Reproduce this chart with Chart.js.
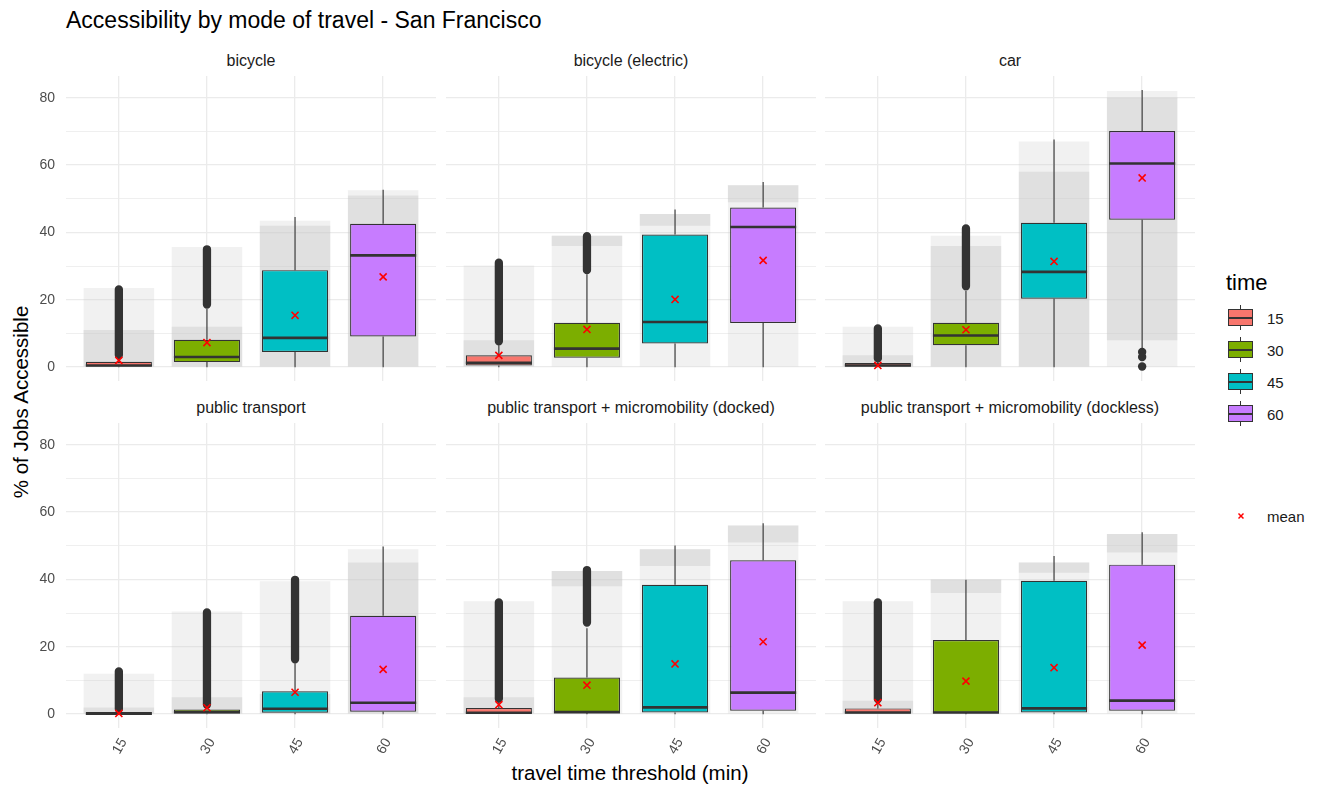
<!DOCTYPE html>
<html>
<head>
<meta charset="utf-8">
<title>Accessibility by mode of travel - San Francisco</title>
<script src="https://cdn.jsdelivr.net/npm/chart.js@4.4.1/dist/chart.umd.min.js"></script>
<style>
  html, body { margin: 0; padding: 0; background: #ffffff; }
  body { width: 1322px; height: 785px; position: relative; overflow: hidden;
         font-family: "Liberation Sans", Arial, Helvetica, sans-serif; }
  canvas { position: absolute; }
  .txt { position: absolute; white-space: nowrap; line-height: 1; }
  .center { transform: translate(-50%, -50%); }
  .vmid { transform: translateY(-50%); }
</style>
</head>
<body>
<div class="txt" style="left:66px; top:9px; font-size:23px; color:#000;">Accessibility by mode of travel - San Francisco</div>
<div class="txt center" style="left:630px; top:773px; font-size:20.5px; color:#000;">travel time threshold (min)</div>
<div class="txt" style="left:21px; top:402px; font-size:20.5px; color:#000; transform: translate(-50%, -50%) rotate(-90deg);">% of Jobs Accessible</div>

<script>
const FONT = '"Liberation Sans", Arial, Helvetica, sans-serif';

// travel time thresholds (minutes) on the x axis
const timeLabels = ['15', '30', '45', '60'];
const timeColors = ['#F8766D', '#7CAE00', '#00BFC4', '#C77CFF'];
const facetNames = ['bicycle', 'bicycle (electric)', 'car', 'public transport',
  'public transport + micromobility (docked)', 'public transport + micromobility (dockless)'];
const yTickValues = [0, 10, 20, 30, 40, 50, 60, 70, 80];

// box statistics per travel time: [lower whisker, Q1, median, Q3, upper whisker]
const bicycleStats = [[0, 0.2, 0.5, 1.6, 3.4], [0, 1.5, 3.0, 8.1, 17.3], [0, 4.5, 8.7, 28.8, 44.6], [0, 9.1, 33.2, 42.6, 52.7]];
const eBikeStats = [[0, 0.5, 1.3, 3.5, 7.0], [0, 2.8, 5.5, 13.2, 27.6], [0, 7.0, 13.4, 39.4, 46.8], [0, 13.1, 41.6, 47.4, 55.0]];
const carStats = [[0, 0.2, 0.5, 1.2, 2.4], [0, 6.5, 9.4, 13.2, 22.6], [0, 20.3, 28.3, 42.9, 67.6], [5.0, 43.8, 60.5, 70.1, 82.3]];
const transitStats = [[0, 0, 0.1, 0.6, 1.2], [0, 0.2, 0.6, 1.4, 2.5], [0, 0.4, 1.6, 6.8, 15.1], [0, 0.7, 3.4, 29.2, 49.8]];
const dockedStats = [[0, 0, 0.4, 1.8, 4.0], [0, 0.4, 0.6, 10.9, 25.5], [0, 0.5, 2.0, 38.4, 50.1], [0, 1.0, 6.4, 45.7, 56.7]];
const docklessStats = [[0, 0, 0.5, 1.7, 3.9], [0, 0.4, 0.5, 22.0, 39.9], [0, 0.5, 1.7, 39.6, 47.0], [0, 1.0, 4.0, 44.4, 54.0]];

// mean share of jobs reachable
const bicycleMeans = [2.0, 7.3, 15.4, 26.8];
const eBikeMeans = [3.5, 11.2, 20.1, 31.7];
const carMeans = [0.5, 11.1, 31.4, 56.2];
const transitMeans = [0.2, 1.9, 6.5, 13.3];
const dockedMeans = [2.8, 8.6, 14.9, 21.5];
const docklessMeans = [3.4, 9.8, 13.8, 20.5];

// continuous runs of outliers: [lowest, highest] (null when there are none)
const bicycleOutlierRuns = [[3.6, 23.1], [18.6, 35.0], null, null];
const eBikeOutlierRuns = [[7.7, 31.0], [28.8, 38.9], null, null];
const carOutlierRuns = [[2.6, 11.5], [24.0, 41.2], null, null];
const transitOutlierRuns = [[1.5, 12.7], [2.8, 30.2], [16.3, 39.9], null];
const dockedOutlierRuns = [[4.6, 33.2], [27.2, 42.8], null, null];
const docklessOutlierRuns = [[4.5, 33.2], null, null, null];

// isolated outliers
const carOutlierPoints = [[], [], [], [4.5, 3.0, 0.2]];
const noOutlierPoints = [[], [], [], []];

// spread of the jittered observations: [lowest, highest, dense band from, dense band to]
const bicycleCloud = [[0, 23.5, 0, 11], [0, 35.7, 0, 12], [0, 43.5, 0, 42], [0, 52.5, 0, 51]];
const eBikeCloud = [[0, 30.2, 0, 8], [0, 39.0, 36, 39], [0, 45.5, 42, 45.5], [0, 54.0, 49, 54]];
const carCloud = [[0, 12.0, 0, 3.5], [0, 39.0, 0, 36], [0, 67.0, 0, 58], [0, 82.0, 8, 80]];
const transitCloud = [[0, 12.0, 0, 2], [0, 30.5, 0, 5], [0, 39.5, 0, 6], [0, 49.0, 0, 45]];
const dockedCloud = [[0, 33.5, 0, 5], [0, 42.5, 38, 42.5], [0, 49.0, 44, 49], [0, 56.0, 51, 56]];
const docklessCloud = [[0, 33.5, 0, 4], [0, 40.0, 36, 40], [0, 45.0, 42, 45], [0, 53.5, 48, 53.5]];

const panels = [
  { name: facetNames[0], stats: bicycleStats, means: bicycleMeans, runs: bicycleOutlierRuns, points: noOutlierPoints, cloud: bicycleCloud },
  { name: facetNames[1], stats: eBikeStats, means: eBikeMeans, runs: eBikeOutlierRuns, points: noOutlierPoints, cloud: eBikeCloud },
  { name: facetNames[2], stats: carStats, means: carMeans, runs: carOutlierRuns, points: carOutlierPoints, cloud: carCloud },
  { name: facetNames[3], stats: transitStats, means: transitMeans, runs: transitOutlierRuns, points: noOutlierPoints, cloud: transitCloud },
  { name: facetNames[4], stats: dockedStats, means: dockedMeans, runs: dockedOutlierRuns, points: noOutlierPoints, cloud: dockedCloud },
  { name: facetNames[5], stats: docklessStats, means: docklessMeans, runs: docklessOutlierRuns, points: noOutlierPoints, cloud: docklessCloud }
];

// facet grid geometry (plot-area rectangles)
const colLeft = [66, 446, 825];
const rowTop = [76, 423];
const AREA_W = 370, AREA_H = 305;
const Y_AXIS_W = 40, X_AXIS_H = 55;
const BOX_W = 0.75, CLOUD_W = 0.8;
const Y_MIN = -4.12, Y_MAX = 86.47;

function addText(text, x, y, size, color, cls) {
  const d = document.createElement('div');
  d.className = 'txt ' + cls;
  d.textContent = text;
  d.style.left = x + 'px';
  d.style.top = y + 'px';
  d.style.fontSize = size + 'px';
  d.style.color = color;
  document.body.appendChild(d);
  return d;
}

function buildPanel(p, idx) {
  const col = idx % 3, row = Math.floor(idx / 3);
  const hasY = col === 0, hasX = row === 1;
  const yW = hasY ? Y_AXIS_W : 0;
  const xH = hasX ? X_AXIS_H : 0;

  const canvas = document.createElement('canvas');
  canvas.width = yW + AREA_W;
  canvas.height = AREA_H + xH;
  canvas.style.width = canvas.width + 'px';
  canvas.style.height = canvas.height + 'px';
  canvas.style.left = (colLeft[col] - yW) + 'px';
  canvas.style.top = rowTop[row] + 'px';
  document.body.appendChild(canvas);

  addText(p.name, colLeft[col] + AREA_W / 2, rowTop[row] - 15, 16, '#1A1A1A', 'center');

  const xs = timeLabels.map((_, i) => i + 1);

  const datasets = [
    // jittered observations: faint haze over their full spread, heavier where they pile up
    { type: 'bar', order: 10, grouped: false, barPercentage: CLOUD_W, categoryPercentage: 1,
      backgroundColor: 'rgba(200,200,200,0.25)', borderWidth: 0,
      data: xs.map((x, i) => ({ x, y: [p.cloud[i][0], p.cloud[i][1]] })) },
    { type: 'bar', order: 9, grouped: false, barPercentage: CLOUD_W, categoryPercentage: 1,
      backgroundColor: 'rgba(200,200,200,0.42)', borderWidth: 0,
      data: xs.map((x, i) => ({ x, y: [p.cloud[i][2], p.cloud[i][3]] })) },
    // whiskers
    { type: 'line', order: 8, borderColor: '#333333', borderWidth: 1.1, pointRadius: 0, spanGaps: false,
      data: xs.flatMap((x, i) => [
        { x, y: p.stats[i][0] }, { x, y: p.stats[i][1] }, { x, y: null },
        { x, y: p.stats[i][3] }, { x, y: p.stats[i][4] }, { x, y: null }]) },
    // interquartile boxes
    { type: 'bar', order: 7, grouped: false, barPercentage: BOX_W, categoryPercentage: 1,
      backgroundColor: timeColors, borderColor: '#333333', borderWidth: 1.2, borderSkipped: false,
      data: xs.map((x, i) => ({ x, y: [p.stats[i][1], p.stats[i][3]] })) },
    // medians
    { type: 'line', order: 6, borderColor: '#333333', borderWidth: 2.6, pointRadius: 0, spanGaps: false,
      data: xs.flatMap((x, i) => [
        { x: x - BOX_W / 2, y: p.stats[i][2] }, { x: x + BOX_W / 2, y: p.stats[i][2] }, { x: x + BOX_W / 2, y: null }]) },
    // packed outliers
    { type: 'line', order: 5, borderColor: '#333333', borderWidth: 8.3, borderCapStyle: 'round',
      pointRadius: 0, spanGaps: false,
      data: xs.flatMap((x, i) => p.runs[i] ? [{ x, y: p.runs[i][0] }, { x, y: p.runs[i][1] }, { x, y: null }] : []) },
    // single outliers
    { type: 'line', order: 4, showLine: false, pointRadius: 4.2, pointBackgroundColor: '#333333',
      pointBorderWidth: 0, data: xs.flatMap((x, i) => p.points[i].map(v => ({ x, y: v }))) },
    // means
    { type: 'line', order: 1, showLine: false, pointStyle: 'crossRot', pointRadius: 5,
      pointBorderColor: '#FF0000', pointBorderWidth: 1.6,
      data: xs.map((x, i) => ({ x, y: p.means[i] })) }
  ];

  new Chart(canvas, {
    type: 'bar',
    data: { datasets },
    options: {
      responsive: false,
      animation: false,
      events: [],
      layout: { padding: 0, autoPadding: false },
      plugins: { legend: { display: false }, tooltip: { enabled: false } },
      scales: {
        x: {
          type: 'linear', min: 0.4, max: 4.6, offset: false,
          afterBuildTicks: s => { s.ticks = xs.map(v => ({ value: v })); },
          afterFit: s => { s.height = xH; s.paddingLeft = 0; s.paddingRight = 0; s.paddingTop = 0; s.paddingBottom = 0; },
          grid: { color: '#EBEBEB', lineWidth: 1.3, drawTicks: false, offset: false },
          border: { display: false },
          ticks: {
            display: hasX, autoSkip: false, minRotation: 60, maxRotation: 60,
            padding: 7.5, labelOffset: 5, color: '#4D4D4D',
            font: { family: FONT, size: 14 },
            callback: v => timeLabels[Math.round(v) - 1]
          }
        },
        y: {
          type: 'linear', min: Y_MIN, max: Y_MAX,
          afterBuildTicks: s => { s.ticks = yTickValues.map(v => ({ value: v })); },
          afterFit: s => { s.width = yW; s.paddingTop = 0; s.paddingBottom = 0; s.paddingLeft = 0; s.paddingRight = 0; },
          grid: { color: '#EBEBEB', lineWidth: c => (c.tick && c.tick.value % 20 === 0) ? 1.3 : 0.8, drawTicks: false },
          border: { display: false },
          ticks: {
            display: hasY, autoSkip: false, padding: 11, color: '#4D4D4D',
            font: { family: FONT, size: 14 },
            callback: v => (v % 20 === 0 ? String(v) : '')
          }
        }
      }
    }
  });
}

panels.forEach(buildPanel);

// legend: fill colour per travel time, plus the mean marker
(function buildLegend() {
  addText('time', 1226, 283, 22, '#000', 'vmid');
  const keyTop = 317.7, keyStep = 32;
  timeLabels.forEach((lab, i) => {
    const cy = keyTop + i * keyStep;
    const whisker = document.createElement('div');
    whisker.style.cssText = `position:absolute;left:1240px;top:${cy - 12.5}px;width:1px;height:25px;background:#333;`;
    document.body.appendChild(whisker);
    const box = document.createElement('div');
    box.style.cssText = `position:absolute;left:1228px;top:${cy - 8.5}px;width:23px;height:15px;` +
      `background:${timeColors[i]};border:1px solid #333;`;
    document.body.appendChild(box);
    const med = document.createElement('div');
    med.style.cssText = `position:absolute;left:1229px;top:${cy - 1}px;width:23px;height:2px;background:#333;`;
    document.body.appendChild(med);
    addText(lab, 1267, cy, 15, '#1A1A1A', 'vmid');
  });
  const cross = document.createElementNS('http://www.w3.org/2000/svg', 'svg');
  cross.setAttribute('width', '10');
  cross.setAttribute('height', '10');
  cross.style.cssText = 'position:absolute;left:1236px;top:511px;';
  cross.innerHTML = '<line x1="2.5" y1="2.5" x2="7.5" y2="7.5" stroke="#FF0000" stroke-width="1.5"/>' +
                    '<line x1="7.5" y1="2.5" x2="2.5" y2="7.5" stroke="#FF0000" stroke-width="1.5"/>';
  document.body.appendChild(cross);
  addText('mean', 1267, 516, 15, '#1A1A1A', 'vmid');
})();
</script>
</body>
</html>
